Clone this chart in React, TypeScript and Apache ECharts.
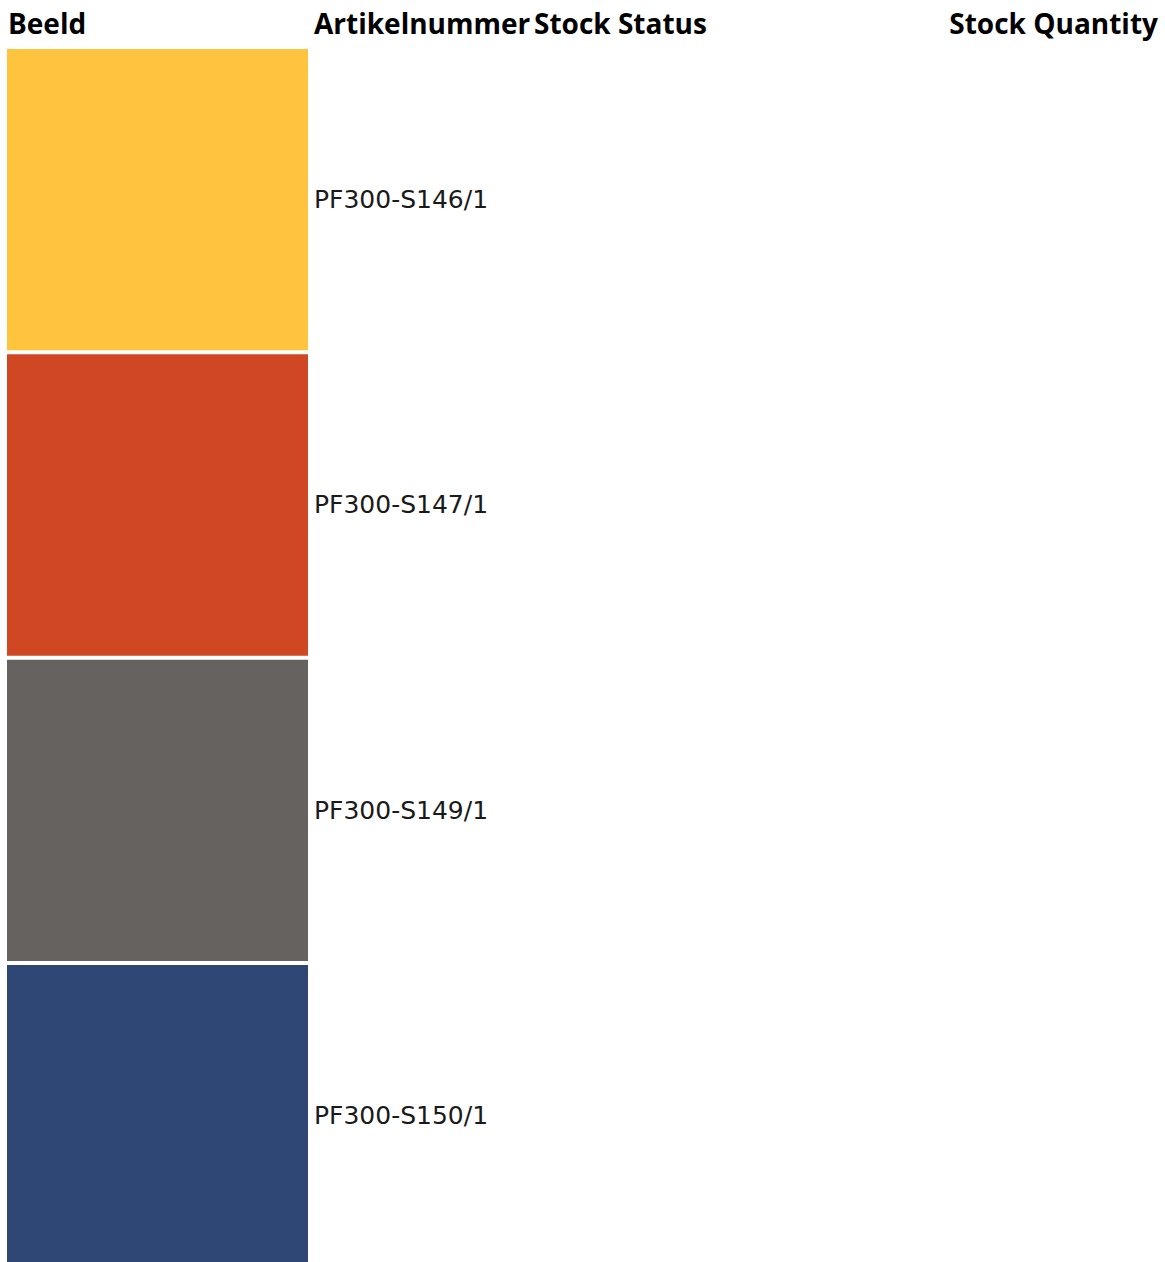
import React, { useEffect, useRef } from "react";
import * as echarts from "echarts";

const headers = ["Beeld", "Artikelnummer", "Stock Status", "Stock Quantity"];
const articleNumbers = ["PF300-S146/1", "PF300-S147/1", "PF300-S149/1", "PF300-S150/1"];
const swatchColors = ["#FFC43D", "#D04723", "#666260", "#2F4775"];
const stockStatus = ["", "", "", ""];
const stockQuantity = ["", "", "", ""];

const HEADER_FONT = '"Open Sans", "DejaVu Sans", sans-serif';
const CELL_FONT = '"DejaVu Sans", "Open Sans", sans-serif';

export default function App() {
  const ref = useRef<HTMLDivElement>(null);
  useEffect(() => {
    if (!ref.current) return;
    const chart = echarts.init(ref.current, null, { renderer: "svg" });
    const headerX = [8, 314, 534, 1158];
    const headerAlign = ["left", "left", "left", "right"];
    chart.setOption({
      animation: false,
      grid: { left: 7, top: 47, width: 1151, height: 1221.33 },
      xAxis: { type: "value", min: 0, max: 1, show: false },
      yAxis: { type: "category", data: articleNumbers, inverse: true, show: false },
      graphic: headers.map((h, i) => ({
        type: "text",
        x: headerX[i],
        y: 23,
        style: {
          text: h,
          fill: "#000",
          fontFamily: HEADER_FONT,
          fontWeight: "bold",
          fontSize: 28,
          align: headerAlign[i],
          verticalAlign: "middle",
        },
      })),
      series: [
        {
          type: "custom",
          data: articleNumbers.map((_, i) => [0, i, stockStatus[i], stockQuantity[i]]),
          renderItem: (params: any, api: any) => {
            const idx = api.value(1);
            const c = api.coord([0, idx]);
            const band = api.size([0, 1])[1];
            const top = c[1] - band / 2 + 2;
            return {
              type: "group",
              children: [
                {
                  type: "rect",
                  shape: { x: params.coordSys.x, y: top, width: 301, height: band - 4 },
                  style: { fill: swatchColors[idx] },
                },
                {
                  type: "text",
                  x: 314,
                  y: c[1],
                  style: {
                    text: articleNumbers[idx],
                    fill: "#1a1a1a",
                    fontFamily: CELL_FONT,
                    fontSize: 25,
                    align: "left",
                    verticalAlign: "middle",
                  },
                },
              ],
            };
          },
        },
      ],
    });
    return () => chart.dispose();
  }, []);
  return (
    <div
      ref={ref}
      style={{ position: "fixed", left: 0, top: 0, width: 1165, height: 1280, background: "#fff" }}
    />
  );
}
